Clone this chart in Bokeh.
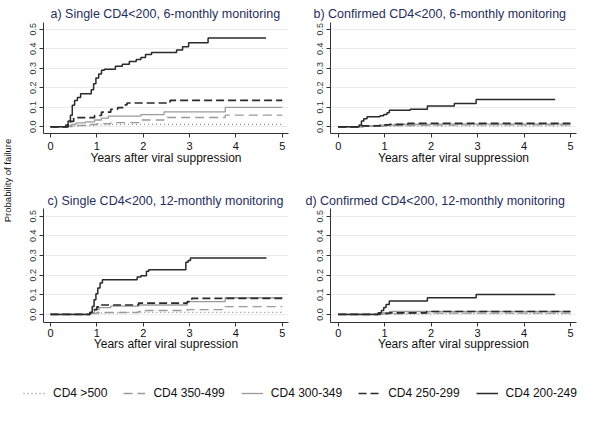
from bokeh.plotting import figure
from bokeh.models import Range1d, FixedTicker, NumeralTickFormatter, Label, Legend, LegendItem
from bokeh.layouts import row, column
from bokeh.embed import file_html
from bokeh.resources import INLINE

FONT = "Liberation Sans"
NAVY = "#1f2e5c"
NAN = float("nan")

# ---------------- data (step functions: time in years, cumulative probability) ----------------
groups = ["CD4 >500", "CD4 350-499", "CD4 300-349", "CD4 250-299", "CD4 200-249"]

# a) Single CD4<200, 6-monthly
a_t_500 = [0, 0.45, 0.70, 1.00, 1.30, 5.0]
a_v_500 = [0, 0.004, 0.007, 0.010, 0.013, 0.013]
a_t_350 = [0, 0.40, 0.55, 0.80, 1.00, 1.30, 1.95, 2.45, 3.77, 5.0]
a_v_350 = [0, 0.003, 0.008, 0.012, 0.016, 0.022, 0.035, 0.048, 0.060, 0.060]
a_t_300 = [0, 0.35, 0.45, 0.55, 0.75, 0.95, 1.10, 1.25, 1.95, 2.45, 3.77, 5.0]
a_v_300 = [0, 0.005, 0.012, 0.020, 0.025, 0.035, 0.045, 0.055, 0.063, 0.077, 0.100, 0.100]
a_t_250 = [0, 0.38, 0.43, 0.50, 0.95, 1.10, 1.30, 1.45, 1.58, 1.65, 2.58, 5.0]
a_v_250 = [0, 0.012, 0.028, 0.047, 0.058, 0.075, 0.090, 0.098, 0.112, 0.122, 0.135, 0.135]
a_t_200 = [0, 0.33, 0.38, 0.43, 0.47, 0.52, 0.58, 0.65, 0.88, 0.93, 0.98, 1.04, 1.10, 1.16,
           1.40, 1.55, 1.70, 1.85, 1.95, 2.05, 2.18, 2.72, 2.85, 2.98, 3.40, 4.65]
a_v_200 = [0, 0.010, 0.030, 0.060, 0.110, 0.135, 0.150, 0.170, 0.190, 0.220, 0.250, 0.270, 0.290, 0.295,
           0.310, 0.320, 0.335, 0.345, 0.355, 0.370, 0.380, 0.393, 0.410, 0.430, 0.455, 0.455]

# b) Confirmed CD4<200, 6-monthly
b_t_500 = [0, 0.60, 1.20, 2.00, 5.0]
b_v_500 = [0, 0.002, 0.004, 0.005, 0.005]
b_t_350 = [0, 0.50, 1.00, 1.60, 2.50, 5.0]
b_v_350 = [0, 0.003, 0.006, 0.009, 0.010, 0.010]
b_t_300 = [0, 0.55, 0.90, 1.20, 2.00, 5.0]
b_v_300 = [0, 0.005, 0.009, 0.012, 0.014, 0.014]
b_t_250 = [0, 0.50, 0.90, 1.10, 1.50, 5.0]
b_v_250 = [0, 0.005, 0.010, 0.013, 0.018, 0.018]
b_t_200 = [0, 0.45, 0.50, 0.55, 0.62, 0.90, 0.98, 1.05, 1.10, 1.55, 1.92, 2.50, 2.97, 4.67]
b_v_200 = [0, 0.010, 0.030, 0.042, 0.052, 0.057, 0.063, 0.072, 0.085, 0.090, 0.107, 0.120, 0.140, 0.140]

# c) Single CD4<200, 12-monthly
c_t_500 = [0, 0.90, 1.10, 1.50, 5.0]
c_v_500 = [0, 0.004, 0.008, 0.011, 0.011]
c_t_350 = [0, 0.85, 1.00, 1.90, 2.05, 2.95, 3.77, 5.0]
c_v_350 = [0, 0.005, 0.010, 0.015, 0.020, 0.025, 0.040, 0.040]
c_t_300 = [0, 0.85, 0.95, 1.05, 1.30, 1.90, 2.95, 3.77, 5.0]
c_v_300 = [0, 0.010, 0.025, 0.035, 0.042, 0.048, 0.065, 0.085, 0.085]
c_t_250 = [0, 0.85, 0.92, 1.00, 1.10, 1.90, 2.95, 3.05, 5.0]
c_v_250 = [0, 0.010, 0.025, 0.038, 0.048, 0.058, 0.065, 0.082, 0.082]
c_t_200 = [0, 0.85, 0.90, 0.94, 0.98, 1.02, 1.07, 1.12, 1.87, 1.95, 2.07, 2.12, 2.92, 2.97, 3.02, 4.66]
c_v_200 = [0, 0.010, 0.040, 0.075, 0.105, 0.135, 0.160, 0.177, 0.190, 0.197, 0.220, 0.228, 0.265, 0.275, 0.287, 0.287]

# d) Confirmed CD4<200, 12-monthly
d_t_500 = [0, 1.00, 2.00, 5.0]
d_v_500 = [0, 0.002, 0.004, 0.004]
d_t_350 = [0, 0.95, 1.50, 5.0]
d_v_350 = [0, 0.003, 0.007, 0.007]
d_t_300 = [0, 0.90, 1.10, 5.0]
d_v_300 = [0, 0.008, 0.015, 0.015]
d_t_250 = [0, 0.90, 1.10, 1.90, 5.0]
d_v_250 = [0, 0.005, 0.008, 0.015, 0.015]
d_t_200 = [0, 0.86, 0.93, 0.98, 1.03, 1.10, 1.92, 2.97, 4.67]
d_v_200 = [0, 0.008, 0.020, 0.035, 0.050, 0.068, 0.085, 0.102, 0.102]

x_ticks = [0, 1, 2, 3, 4, 5]
y_ticks = [0, 0.1, 0.2, 0.3, 0.4, 0.5]

styles = [
    dict(line_color="#8c8c8c", line_width=1.3, line_dash="1 3"),
    dict(line_color="#9a9a9a", line_width=1.3, line_dash="9 5"),
    dict(line_color="#9a9a9a", line_width=1.3, line_dash="solid"),
    dict(line_color="#2a2a2a", line_width=1.7, line_dash="8 4"),
    dict(line_color="#2a2a2a", line_width=1.5, line_dash="solid"),
]


def make_panel(title, title_offset, title_standoff, xlabel, series, width, height, bl, br, bt, bb, xr, yr,
               tick_standoff, label_standoff):
    p = figure(width=width, height=height, x_range=Range1d(*xr), y_range=Range1d(*yr),
               output_backend="svg", toolbar_location=None,
               min_border_left=bl, min_border_right=br, min_border_top=bt, min_border_bottom=bb,
               title=title)
    p.title.text_font = FONT
    p.title.text_font_size = "12.5px"
    p.title.text_font_style = "normal"
    p.title.text_color = NAVY
    p.title.align = "left"
    p.title.offset = title_offset
    p.title.standoff = title_standoff
    p.outline_line_color = None
    p.background_fill_color = "white"
    p.border_fill_color = "white"

    p.xaxis.ticker = FixedTicker(ticks=x_ticks)
    p.xaxis.minor_tick_line_color = None
    p.xaxis.major_tick_out = 4
    p.xaxis.major_tick_in = 0
    p.xaxis.major_label_standoff = tick_standoff
    p.xaxis.major_label_text_font = FONT
    p.xaxis.major_label_text_font_size = "11px"
    p.xaxis.major_label_text_color = "#111111"
    p.xaxis.axis_label = xlabel
    p.xaxis.axis_label_text_font = FONT
    p.xaxis.axis_label_text_font_size = "12px"
    p.xaxis.axis_label_text_font_style = "normal"
    p.xaxis.axis_label_text_color = "#111111"
    p.xaxis.axis_label_standoff = label_standoff
    p.xaxis.axis_line_color = "#333333"
    p.xaxis.major_tick_line_color = "#333333"

    p.yaxis.ticker = FixedTicker(ticks=y_ticks)
    p.yaxis.formatter = NumeralTickFormatter(format="0.0")
    p.yaxis.minor_tick_line_color = None
    p.yaxis.major_tick_out = 4
    p.yaxis.major_tick_in = 0
    p.yaxis.major_label_standoff = 3
    p.yaxis.major_label_orientation = "vertical"
    p.yaxis.major_label_text_font = FONT
    p.yaxis.major_label_text_font_size = "9px"
    p.yaxis.major_label_text_color = "#333333"
    p.yaxis.axis_line_color = "#333333"
    p.yaxis.major_tick_line_color = "#333333"

    p.xgrid.grid_line_color = None
    p.ygrid.ticker = FixedTicker(ticks=y_ticks)
    p.ygrid.grid_line_color = "#e8ecef"
    p.ygrid.grid_line_width = 1

    for (t, v), st in zip(series, styles):
        p.step(x=t, y=v, mode="after", **st)
    return p


pa = make_panel("a) Single CD4<200, 6-monthly monitoring", 7, 4, "Years after viral suppression",
                [(a_t_500, a_v_500), (a_t_350, a_v_350), (a_t_300, a_v_300), (a_t_250, a_v_250), (a_t_200, a_v_200)],
                282, 190, 25, 12, 22, 57, (-0.151, 5.135), (-0.034, 0.534), 4, -2)
pb = make_panel("b) Confirmed CD4<200, 6-monthly monitoring", -17, 4, "Years after viral suppression",
                [(b_t_500, b_v_500), (b_t_350, b_v_350), (b_t_300, b_v_300), (b_t_250, b_v_250), (b_t_200, b_v_200)],
                300, 190, 30, 24, 22, 57, (-0.166, 5.13), (-0.034, 0.534), 4, -2)
pc = make_panel("c) Single CD4<200, 12-monthly monitoring", 4, 1, "Years after viral supression",
                [(c_t_500, c_v_500), (c_t_350, c_v_350), (c_t_300, c_v_300), (c_t_250, c_v_250), (c_t_200, c_v_200)],
                282, 185, 25, 12, 18, 53, (-0.151, 5.135), (-0.041, 0.539), 2, -3)
pd_ = make_panel("d) Confirmed CD4<200, 12-monthly monitoring", -25, 1, "Years after viral suppression",
                 [(d_t_500, d_v_500), (d_t_350, d_v_350), (d_t_300, d_v_300), (d_t_250, d_v_250), (d_t_200, d_v_200)],
                 300, 185, 30, 24, 18, 53, (-0.166, 5.13), (-0.041, 0.539), 2, -3)

# y-axis label strip
lab = figure(width=18, height=375, x_range=Range1d(0, 18), y_range=Range1d(0, 375),
             output_backend="svg", toolbar_location=None, min_border=0)
lab.axis.visible = False
lab.grid.visible = False
lab.outline_line_color = None
lab.add_layout(Label(x=7, y=195, text="Probability of failure", angle=1.5707963,
                     text_align="center", text_baseline="middle", text_font=FONT,
                     text_font_size="9.5px", text_color="#111111"))

# legend strip
leg = figure(width=600, height=36, x_range=Range1d(0, 1), y_range=Range1d(0, 1),
             output_backend="svg", toolbar_location=None, min_border=0)
leg.axis.visible = False
leg.grid.visible = False
leg.outline_line_color = None
items = []
for name, st in zip(groups, styles):
    r = leg.line(x=[NAN, NAN], y=[NAN, NAN], **st)
    items.append(LegendItem(label=name, renderers=[r]))
legend = Legend(items=items, orientation="horizontal", location="center",
                glyph_width=22, glyph_height=12, label_standoff=8, spacing=16,
                padding=0, margin=0, border_line_color=None, background_fill_alpha=0,
                label_text_font=FONT, label_text_font_size="12px", label_text_color="#111111")
leg.add_layout(legend, "center")

layout = column(row(lab, column(row(pa, pb), row(pc, pd_))), leg)

open("out.html", "w").write(file_html(layout, INLINE))
